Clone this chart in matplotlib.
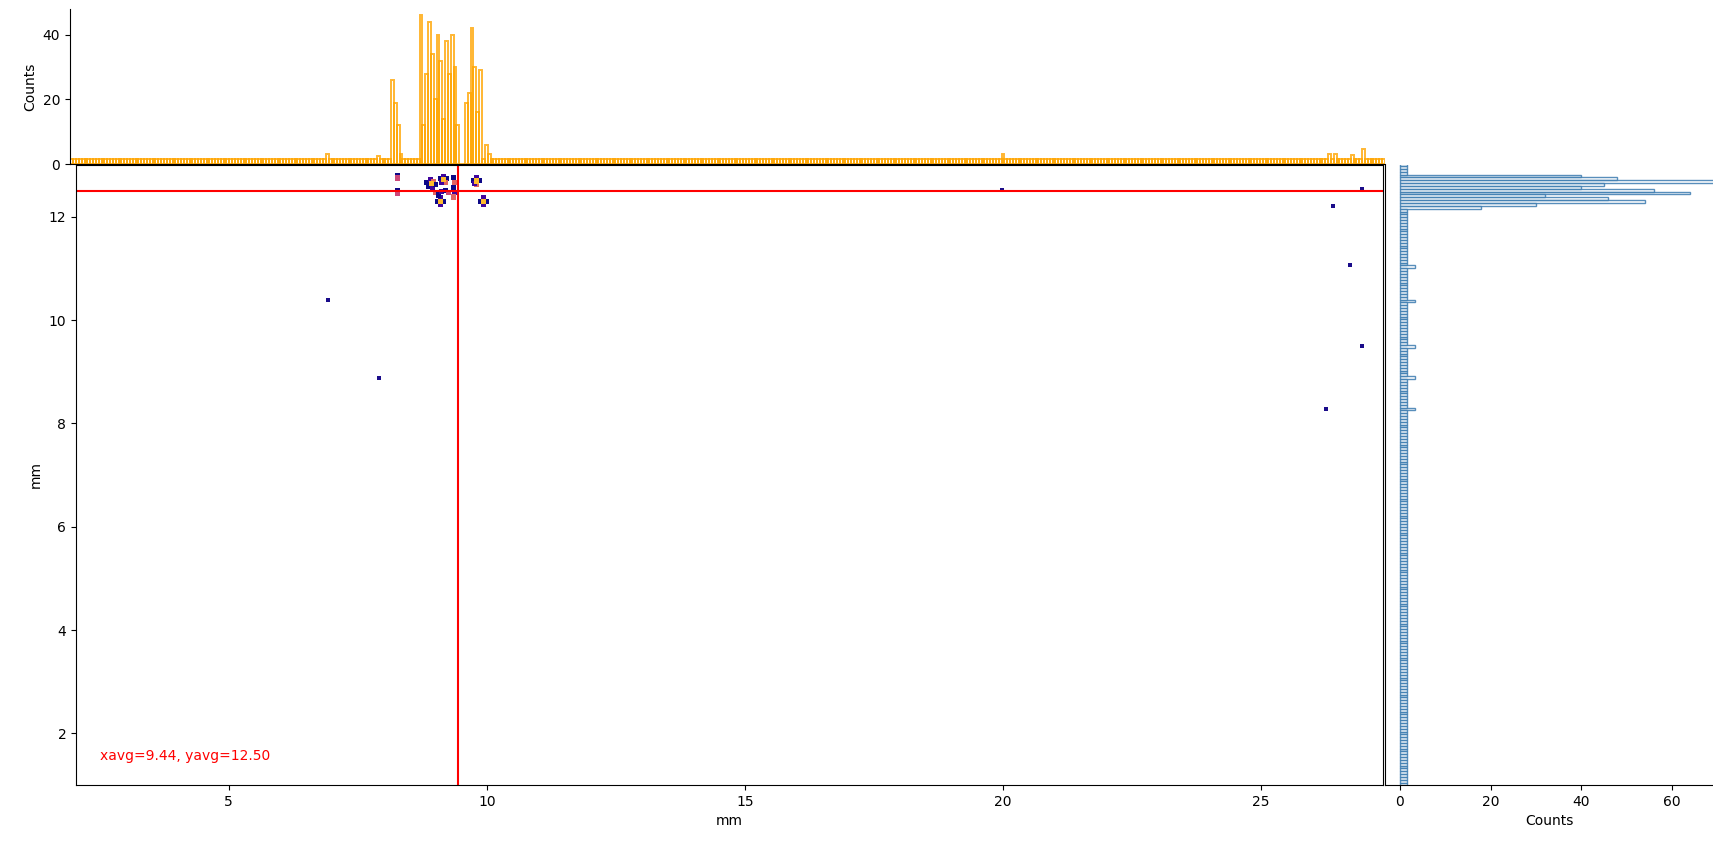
import numpy as np
import matplotlib
matplotlib.use("Agg")
import matplotlib.pyplot as plt

# pixel pitch of the detector (mm) and histogram binning
PITCH = 0.055
X_START = 1.93
X_NBINS = 463
Y_START = 0.99
Y_NBINS = 219
BASE_COUNT = 1.5  # background level seen in every bin

# main cluster hits (mm) and colour value (0..1 on plasma)
clu_x = [8.27, 8.27, 8.27, 8.27,
         8.84, 8.90, 8.96, 8.88, 8.94, 9.00, 8.92,
         9.10, 9.16, 9.22, 9.20, 9.12, 9.16,
         9.04, 9.10, 9.16, 9.10, 9.10,
         9.00, 9.06, 9.12, 9.20, 9.26,
         9.36, 9.38, 9.36, 9.38, 9.36,
         9.74, 9.80, 9.86, 9.80, 9.76, 9.80,
         9.87, 9.93, 9.99, 9.93, 9.93]
clu_y = [12.80, 12.75, 12.50, 12.45,
         12.66, 12.72, 12.68, 12.58, 12.56, 12.62, 12.64,
         12.74, 12.78, 12.74, 12.66, 12.66, 12.72,
         12.30, 12.36, 12.30, 12.24, 12.30,
         12.46, 12.42, 12.48, 12.50, 12.46,
         12.76, 12.66, 12.56, 12.46, 12.38,
         12.70, 12.76, 12.70, 12.62, 12.64, 12.69,
         12.30, 12.36, 12.30, 12.24, 12.30]
clu_v = [0.0, 0.5, 0.0, 0.5,
         0.0, 0.1, 0.6, 0.0, 0.1, 0.0, 0.85,
         0.0, 0.1, 0.0, 0.6, 0.1, 0.85,
         0.0, 0.1, 0.0, 0.1, 0.85,
         0.6, 0.0, 0.1, 0.0, 0.5,
         0.0, 0.6, 0.0, 0.1, 0.6,
         0.0, 0.1, 0.0, 0.6, 0.1, 0.85,
         0.0, 0.1, 0.0, 0.1, 0.85]

# isolated single hits
iso_x = [6.92, 7.91, 19.98, 26.26, 26.40, 26.73, 26.96, 26.96]
iso_y = [10.39, 8.88, 12.52, 8.28, 12.21, 11.07, 9.50, 12.54]

# x projection: bins that differ from the background
top_peak_x = [6.92, 7.91,
              8.17, 8.22, 8.27, 8.33,
              8.75, 8.805, 8.86, 8.915, 8.97, 9.025, 9.08, 9.135, 9.19,
              9.245, 9.30, 9.355, 9.41, 9.465, 9.52, 9.575, 9.63,
              9.685, 9.74, 9.795, 9.85, 9.905, 9.96, 10.015,
              19.98, 26.30, 26.42, 26.76, 27.00]
top_peak_c = [3.0, 2.5,
              26, 19, 12, 3,
              46, 12, 28, 44, 34, 20, 40, 32, 14,
              38, 28, 40, 30, 12, 0, 0, 19,
              22, 42, 30, 16, 29, 6, 3,
              3.0, 3.2, 3.2, 2.8, 4.5]

# y projection: bins that differ from the background
right_peak_y = [12.80, 12.745, 12.69, 12.635, 12.58, 12.525,
                12.47, 12.415, 12.36, 12.305, 12.25, 12.195,
                11.05, 10.39, 9.48, 8.88, 8.30]
right_peak_c = [40, 48, 72, 45, 40, 56,
                64, 32, 46, 54, 30, 18,
                3.3, 3.3, 3.3, 3.3, 3.3]

xavg = 9.44
yavg = 12.50


def build_counts(start, nbins, peak_pos, peak_cnt):
    edges = start + PITCH * np.arange(nbins + 1)
    centers = edges[:-1] + PITCH / 2
    counts = np.full(nbins, BASE_COUNT)
    for p, c in zip(peak_pos, peak_cnt):
        i = int(np.argmin(np.abs(centers - p)))
        counts[i] = c
    return centers, counts


xc, xcounts = build_counts(X_START, X_NBINS, top_peak_x, top_peak_c)
yc, ycounts = build_counts(Y_START, Y_NBINS, right_peak_y, right_peak_c)

W, H = 1713, 842
fig = plt.figure(figsize=(W / 100, H / 100), dpi=100)

# axes rectangles from pixel positions
def rect(l, t, r, b):
    return [l / W, 1 - b / H, (r - l) / W, (b - t) / H]

ax = fig.add_axes(rect(76, 165, 1383, 785))
ax_top = fig.add_axes(rect(70, 9, 1385, 164))
ax_right = fig.add_axes(rect(1385, 165, W, 785))

# main hit map
ax.scatter(iso_x, iso_y, s=7, marker="s", c="#1a0c8a", linewidths=0)
ax.scatter(clu_x, clu_y, s=14, marker="s", c=clu_v, cmap="plasma",
           vmin=0, vmax=1, linewidths=0)
ax.axvline(xavg, color="red", lw=1.5)
ax.axhline(yavg, color="red", lw=1.5)
ax.text(0.018, 0.04, "xavg={:.2f}, yavg={:.2f}".format(xavg, yavg),
        color="red", fontsize=10, transform=ax.transAxes)
ax.set_xlim(2.04, 27.36)
ax.set_ylim(1.0, 13.0)
ax.set_xticks([5, 10, 15, 20, 25])
ax.set_yticks([2, 4, 6, 8, 10, 12])
ax.set_xlabel("mm", fontsize=10)
ax.set_ylabel("mm", fontsize=10)
ax.tick_params(labelsize=10)

# top histogram
ax_top.bar(xc, xcounts, width=PITCH, fill=False, edgecolor="orange",
           lw=1.4, alpha=0.8)
ax_top.set_xlim(2.04 - 6 / 51.65, 27.36 + 2 / 51.65)
ax_top.set_ylim(0, 48)
ax_top.set_yticks([0, 20, 40])
ax_top.set_xticks([])
ax_top.set_ylabel("Counts", fontsize=10)
ax_top.tick_params(labelsize=10)
for s in ["top", "right"]:
    ax_top.spines[s].set_visible(False)

# right histogram
ax_right.barh(yc, ycounts, height=PITCH, fill=False, edgecolor="#4682b4",
              lw=1.0, alpha=0.9)
ax_right.set_ylim(1.0, 13.0)
ax_right.set_xlim(-3.3, 69.1)
ax_right.set_xticks([0, 20, 40, 60])
ax_right.set_yticks([])
ax_right.set_xlabel("Counts", fontsize=10)
ax_right.tick_params(labelsize=10)
for s in ["top", "right"]:
    ax_right.spines[s].set_visible(False)

fig.savefig("out.png", dpi=100)
